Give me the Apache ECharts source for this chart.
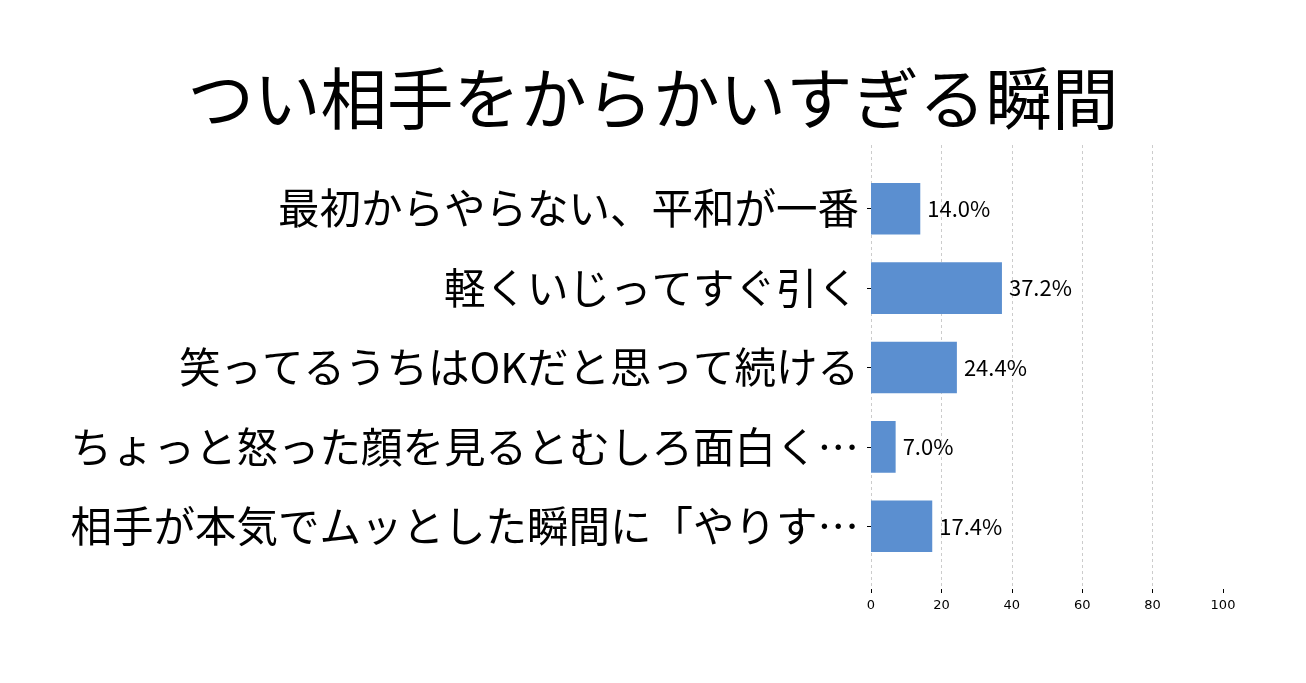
<!DOCTYPE html>
<html><head><meta charset="utf-8">
<script src="https://cdn.jsdelivr.net/npm/echarts@6/dist/echarts.min.js"></script>
<style>html,body{margin:0;padding:0;background:#fff}#c{width:1306px;height:683px}</style>
</head><body><div id="c"></div>
<script>
const titleText = 'つい相手をからかいすぎる瞬間';
const categories = [
  '最初からやらない、平和が一番',
  '軽くいじってすぐ引く',
  '笑ってるうちはOKだと思って続ける',
  'ちょっと怒った顔を見るとむしろ面白く…',
  '相手が本気でムッとした瞬間に「やりす…'
];
const values = [14.0, 37.2, 24.4, 7.0, 17.4];
const xTicks = [0, 20, 40, 60, 80, 100];

const cjk = '"Noto Sans CJK JP", "Noto Sans", sans-serif';
const chart = echarts.init(document.getElementById('c'));
chart.setOption({
  animation: false,
  title: {
    text: titleText, left: 'center', top: 60,
    textStyle: { fontFamily: cjk, fontSize: 66.5, fontWeight: 'normal', color: '#000' }
  },
  grid: [
    { left: 871, right: 83, top: 145, bottom: 94 },
    { left: 871, right: 83, top: 169, bottom: 117 }
  ],
  xAxis: [
    {
      gridIndex: 0, type: 'value', min: 0, max: 100, interval: 20,
      axisLine: { show: false },
      axisTick: { show: true, length: 4, lineStyle: { color: '#000' } },
      axisLabel: { fontFamily: 'DejaVu Sans', fontSize: 13, color: '#000', margin: 10,
        formatter: v => xTicks.includes(v) ? String(v) : '' },
      splitLine: { show: true, lineStyle: { type: [3, 3], color: '#cccccc', width: 1 },
        showMaxLine: false, showMinLine: true }
    },
    {
      gridIndex: 1, type: 'value', min: 0, max: 100, show: false,
      splitLine: { show: false }
    }
  ],
  yAxis: [
    { gridIndex: 0, type: 'value', show: false, splitLine: { show: false } },
    {
      gridIndex: 1, type: 'category', data: categories, inverse: true,
      axisLine: { show: false },
      axisTick: { show: true, length: 4, alignWithLabel: true, lineStyle: { color: '#000' } },
      axisLabel: { fontFamily: cjk, fontSize: 41.5, color: '#000', margin: 12 }
    }
  ],
  series: [{
    type: 'bar', xAxisIndex: 1, yAxisIndex: 1, data: values, barWidth: '65%',
    itemStyle: { color: '#5b8fd0' },
    label: { show: true, position: 'right', distance: 7,
      formatter: p => p.value.toFixed(1) + '%',
      fontFamily: cjk, fontSize: 22, color: '#000' }
  }]
});
</script></body></html>
